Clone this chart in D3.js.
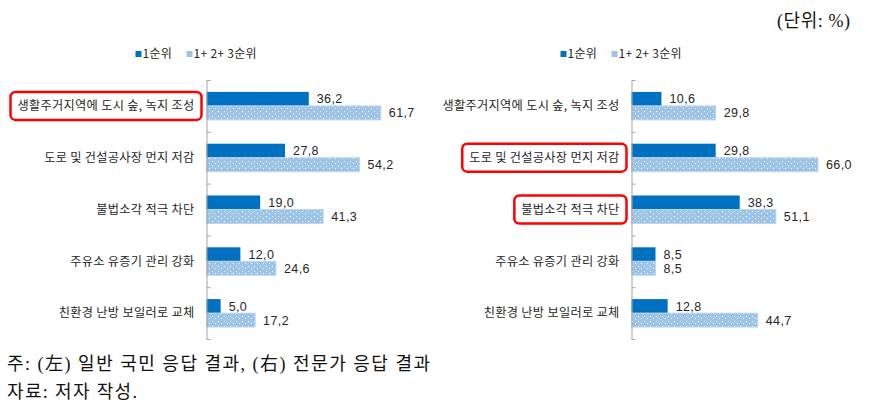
<!DOCTYPE html>
<html><head><meta charset="utf-8">
<script src="https://cdn.jsdelivr.net/npm/d3@7/dist/d3.min.js"></script>
<style>
html,body{margin:0;padding:0;background:#fff;}
svg{display:block;}
</style></head>
<body>
<svg id="chart" width="873" height="406"></svg>
<script>
const categories = ["생활주거지역에 도시 숲, 녹지 조성","도로 및 건설공사장 먼지 저감","불법소각 적극 차단","주유소 유증기 관리 강화","친환경 난방 보일러로 교체"];
const seriesNames = ["1순위","1+ 2+ 3순위"];
const publicRank1 = [36.2, 27.8, 19.0, 12.0, 5.0];
const publicRank123 = [61.7, 54.2, 41.3, 24.6, 17.2];
const expertRank1 = [10.6, 29.8, 38.3, 8.5, 12.8];
const expertRank123 = [29.8, 66.0, 51.1, 8.5, 44.7];
const publicHighlight = [0];
const expertHighlight = [1, 2];
const unitText = "(단위: %)";
const note1 = "주: (左) 일반 국민 응답 결과, (右) 전문가 응답 결과";
const note2 = "자료: 저자 작성.";

const svg = d3.select("#chart");
const defs = svg.append("defs");
const pat = defs.append("pattern").attr("id","dots").attr("patternUnits","userSpaceOnUse")
  .attr("width",6).attr("height",5);
pat.append("rect").attr("width",6).attr("height",5).attr("fill","#9dc3e6");
pat.append("rect").attr("x",2).attr("y",1).attr("width",1).attr("height",1).attr("fill","#ffffff");
pat.append("rect").attr("x",5).attr("y",3).attr("width",1).attr("height",1).attr("fill","#ffffff");

const labelFont = "'Noto Sans CJK KR','Noto Sans',sans-serif";
const numFont = "'Liberation Sans',Arial,sans-serif";
const serifFont = "'Liberation Serif','Noto Sans CJK KR',serif";
const colors = ["#0070c0","url(#dots)"];

const x = d3.scaleLinear().domain([0,100]).range([0,282.5]);
const y = d3.scaleBand().domain(categories).range([80,339]).padding(0);
const yInner = d3.scaleBand().domain(seriesNames).range([0,y.bandwidth()]).paddingInner(0).paddingOuter(0.85);

function panel(axisX, s1, s2, highlight){
  const g = svg.append("g");
  const data = categories.map((c,i)=>({c, vals:[s1[i], s2[i]], i}));
  data.forEach(d=>{
    seriesNames.forEach((s,k)=>{
      const v = d.vals[k];
      g.append("rect")
        .attr("x", axisX)
        .attr("y", y(d.c)+yInner(s))
        .attr("width", x(v))
        .attr("height", yInner.bandwidth())
        .attr("fill", colors[k])
        .attr("stroke", k===1 ? "#bdd7ee" : "none")
        .attr("stroke-width", k===1 ? 1 : 0);
      g.append("text")
        .attr("x", axisX + x(v) + 8)
        .attr("y", y(d.c)+yInner(s)+yInner.bandwidth()/2)
        .attr("dy","0.36em")
        .attr("font-family", numFont)
        .attr("font-size", 12.5)
        .attr("letter-spacing", 0.4)
        .attr("fill","#262626")
        .text(d3.format(".1f")(v).replace(".", ","));
    });
  });
  const ax = g.append("g").attr("transform",`translate(${axisX},0)`)
    .call(d3.axisRight(y).tickValues([]).tickSizeOuter(0));
  ax.select(".domain").attr("stroke","#a6a6a6");
  const bounds = [80].concat(categories.map(c=>y(c)+y.bandwidth()));
  g.selectAll(".tk").data(bounds).enter().append("line")
    .attr("x1",axisX).attr("x2",axisX+4)
    .attr("y1",d=>d+0.5).attr("y2",d=>d+0.5)
    .attr("stroke","#a6a6a6");
  data.forEach(d=>{
    const t = g.append("text")
      .attr("x", axisX-12)
      .attr("y", y(d.c)+y.bandwidth()/2)
      .attr("dy","0.36em")
      .attr("text-anchor","end")
      .attr("font-family", labelFont)
      .attr("font-size", 12.2)
      .attr("letter-spacing", 0.3)
      .attr("fill","#262626")
      .text(d.c);
    if (highlight.includes(d.i)) {
      const bb = t.node().getBBox();
      g.append("rect")
        .attr("x", bb.x-7).attr("y", y(d.c)+y.bandwidth()/2-14)
        .attr("width", bb.width+14).attr("height", 28)
        .attr("rx",5).attr("ry",5)
        .attr("fill","none").attr("stroke","#ff0000").attr("stroke-width",2.5);
    }
  });
  const lg = g.append("g").attr("transform",`translate(${axisX-71},0)`);
  seriesNames.forEach((s,k)=>{
    const off = k===0 ? 0 : 51;
    lg.append("rect").attr("x",off).attr("y",51).attr("width",6).attr("height",6)
      .attr("fill", k===0 ? "#0070c0" : "#9dc3e6");
    lg.append("text").attr("x",off+7).attr("y",54).attr("dy","0.36em")
      .attr("font-family", labelFont).attr("font-size",12).attr("letter-spacing",0.3).attr("fill","#262626")
      .text(s);
  });
}

panel(206.5, publicRank1, publicRank123, publicHighlight);
panel(631.5, expertRank1, expertRank123, expertHighlight);

svg.append("text").attr("x",850).attr("y",27).attr("text-anchor","end")
  .attr("font-family", serifFont).attr("font-size",18).attr("fill","#111")
  .attr("textLength",73).attr("lengthAdjust","spacing")
  .text(unitText);
svg.append("text").attr("x",7).attr("y",370)
  .attr("font-family", serifFont).attr("font-size",18).attr("fill","#111")
  .attr("textLength",423).attr("lengthAdjust","spacing")
  .text(note1);
svg.append("text").attr("x",7).attr("y",398)
  .attr("font-family", serifFont).attr("font-size",18).attr("fill","#111")
  .attr("textLength",130).attr("lengthAdjust","spacing")
  .text(note2);
</script>
</body></html>
